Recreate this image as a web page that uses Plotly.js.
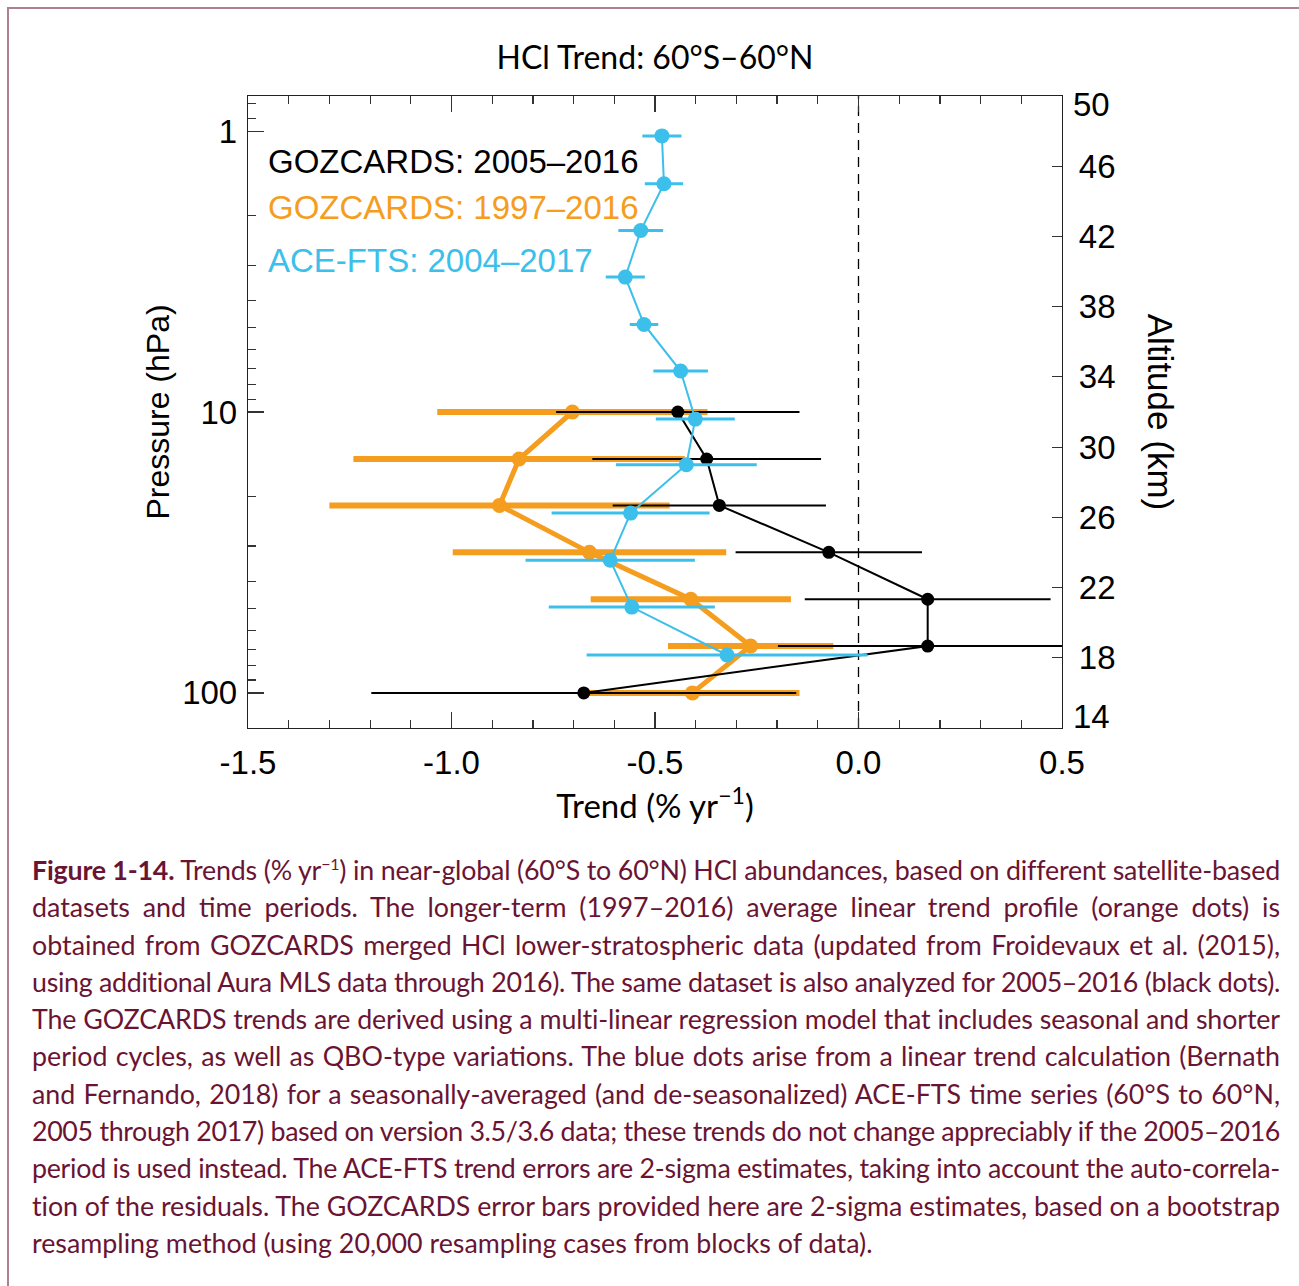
<!DOCTYPE html>
<html><head><meta charset="utf-8">
<script src="https://cdn.plot.ly/plotly-3.0.1.min.js"></script>
<style>
html,body{margin:0;padding:0;background:#fff;}
#wrap{position:relative;width:1299px;height:1286px;overflow:hidden;background:#fff;}
#chart{position:absolute;left:0;top:0;width:1299px;height:1286px;}
#frame{position:absolute;left:7px;top:7px;width:1292px;height:1279px;border-left:2px solid #b08090;border-top:2px solid #b08090;box-sizing:border-box;pointer-events:none;}
#caption{position:absolute;left:32px;top:852px;width:1248px;font-family:Lato,"Open Sans",sans-serif;font-size:26.8px;line-height:37.3px;color:#6a1434;}
#caption .l{white-space:nowrap;text-align:left;}
#caption .l.j{white-space:normal;text-align:justify;text-align-last:justify;}
#caption sup{font-size:16px;line-height:0;}
</style></head>
<body>
<div id="wrap">
<div id="chart"></div>
<div id="frame"></div>
<div id="caption">
<div class="l"><span class="t"><b>Figure 1-14.</b> Trends (% yr<sup>−1</sup>) in near-global (60°S to 60°N) HCl abundances, based on different satellite-based</span></div>
<div class="l"><span class="t">datasets and time periods. The longer-term (1997–2016) average linear trend profile (orange dots) is</span></div>
<div class="l"><span class="t">obtained from GOZCARDS merged HCl lower-stratospheric data (updated from Froidevaux et al. (2015),</span></div>
<div class="l"><span class="t">using additional Aura MLS data through 2016). The same dataset is also analyzed for 2005–2016 (black dots).</span></div>
<div class="l"><span class="t">The GOZCARDS trends are derived using a multi-linear regression model that includes seasonal and shorter</span></div>
<div class="l"><span class="t">period cycles, as well as QBO-type variations. The blue dots arise from a linear trend calculation (Bernath</span></div>
<div class="l"><span class="t">and Fernando, 2018) for a seasonally-averaged (and de-seasonalized) ACE-FTS time series (60°S to 60°N,</span></div>
<div class="l"><span class="t">2005 through 2017) based on version 3.5/3.6 data; these trends do not change appreciably if the 2005–2016</span></div>
<div class="l"><span class="t">period is used instead. The ACE-FTS trend errors are 2-sigma estimates, taking into account the auto-correla-</span></div>
<div class="l"><span class="t">tion of the residuals. The GOZCARDS error bars provided here are 2-sigma estimates, based on a bootstrap</span></div>
<div class="l last"><span class="t">resampling method (using 20,000 resampling cases from blocks of data).</span></div>
</div>
</div>
<script>
// ---- data ----
const gozPressure = [10, 14.7, 21.5, 31.6, 46.4, 68.1, 100];
const gozLongTrend = [-0.703, -0.834, -0.882, -0.661, -0.412, -0.265, -0.408];
const gozLongErr = [0.332, 0.407, 0.418, 0.336, 0.246, 0.203, 0.263];
const gozShortTrend = [-0.444, -0.373, -0.342, -0.073, 0.170, 0.170, -0.675];
const gozShortErr = [0.299, 0.281, 0.262, 0.229, 0.302, 0.368, 0.522];
const acePressure = [1.04, 1.54, 2.26, 3.31, 4.88, 7.15, 10.6, 15.4, 22.9, 33.7, 49.5, 73.3];
const aceTrend = [-0.483, -0.478, -0.535, -0.573, -0.527, -0.437, -0.401, -0.423, -0.560, -0.610, -0.557, -0.323];
const aceErr = [0.048, 0.047, 0.055, 0.048, 0.035, 0.067, 0.097, 0.173, 0.194, 0.208, 0.204, 0.345];
const xTickVals = [-1.5, -1.0, -0.5, 0.0, 0.5];
const xTickText = ["-1.5", "-1.0", "-0.5", "0.0", "0.5"];
const pTickVals = [1, 10, 100];
const pTickText = ["1", "10", "100"];
const pMinorVals = [0.8, 0.9, 2, 3, 4, 5, 6, 7, 8, 9, 20, 30, 40, 50, 60, 70, 80, 90];
const altTickVals = [18, 22, 26, 30, 34, 38, 42, 46];
const altEndLabels = ["14", "50"];
const seriesNames = ["GOZCARDS: 2005–2016", "GOZCARDS: 1997–2016", "ACE-FTS: 2004–2017"];
const seriesColors = ["#000000", "#f59d1e", "#3cbfea"];

const HELV = "Liberation Sans, Arial, sans-serif";
const MYR = "Lato, 'Open Sans', sans-serif";

const traces = [
  {x: gozLongTrend, y: gozPressure, type: 'scatter', mode: 'lines+markers', name: seriesNames[1],
   line: {color: seriesColors[1], width: 5}, marker: {color: seriesColors[1], size: 15},
   error_x: {type: 'data', array: gozLongErr, visible: true, thickness: 6, width: 0, color: seriesColors[1]},
   hoverinfo: 'skip'},
  {x: gozShortTrend, y: gozPressure, type: 'scatter', mode: 'lines+markers', name: seriesNames[0],
   line: {color: seriesColors[0], width: 2}, marker: {color: seriesColors[0], size: 13},
   error_x: {type: 'data', array: gozShortErr, visible: true, thickness: 2, width: 0, color: seriesColors[0]},
   hoverinfo: 'skip'},
  {x: aceTrend, y: acePressure, type: 'scatter', mode: 'lines+markers', name: seriesNames[2],
   line: {color: seriesColors[2], width: 2}, marker: {color: seriesColors[2], size: 15},
   error_x: {type: 'data', array: aceErr, visible: true, thickness: 3, width: 0, color: seriesColors[2]},
   hoverinfo: 'skip'},
  {x: [], y: [], yaxis: 'y2', type: 'scatter', mode: 'markers', showlegend: false, hoverinfo: 'skip'}
];

const axisCommon = {showgrid: false, zeroline: false, showline: true, linecolor: '#222', linewidth: 1.2,
  ticks: 'inside', tickcolor: '#333', tickwidth: 1.2, tickfont: {family: HELV, size: 33, color: '#000'}};

const endAnn = altEndLabels.map((t, i) => ({
  text: t, xref: 'paper', yref: 'y2', x: 1, y: Number(t), xanchor: 'left', yanchor: 'middle',
  xshift: 9, yshift: i === 0 ? 12 : -8, showarrow: false, font: {family: HELV, size: 33, color: '#000'}
}));

const layout = {
  width: 1299, height: 1286,
  margin: {l: 248, r: 237, t: 96, b: 558},
  paper_bgcolor: '#fff', plot_bgcolor: '#fff',
  showlegend: false,
  font: {family: HELV, color: '#000'},
  title: {text: 'HCl Trend: 60°S–60°N', font: {family: MYR, size: 32, color: '#000'},
          x: 0.5, xref: 'paper', xanchor: 'center', y: 1 - 58/1286, yref: 'container', yanchor: 'middle'},
  xaxis: Object.assign({}, axisCommon, {
    range: [-1.5, 0.5], tickmode: 'array', tickvals: xTickVals, ticktext: xTickText, ticklen: 16,
    mirror: 'ticks', ticklabelstandoff: 5,
    minor: {dtick: 0.1, tick0: 0, ticks: 'inside', ticklen: 8, tickcolor: '#333', tickwidth: 1.2, showgrid: false},
    title: {text: 'Trend (% yr<sup>−1</sup>)', font: {family: MYR, size: 33, color: '#000'}, standoff: 12}
  }),
  yaxis: Object.assign({}, axisCommon, {
    type: 'log', range: [Math.log10(100/0.75), Math.log10(0.75)],
    tickmode: 'array', tickvals: pTickVals, ticktext: pTickText, ticklen: 16, ticklabelstandoff: 3,
    minor: {tickmode: 'array', tickvals: pMinorVals, ticks: 'inside', ticklen: 8, tickcolor: '#333', tickwidth: 1.2, showgrid: false},
    title: {text: 'Pressure (hPa)', font: {family: HELV, size: 32, color: '#000'}, standoff: 3}
  }),
  yaxis2: Object.assign({}, axisCommon, {
    overlaying: 'y', side: 'right', anchor: 'x', range: [14, 50],
    tickmode: 'array', tickvals: altTickVals, ticklen: 10, ticklabelstandoff: 9,
    title: {text: 'Altitude (km)', font: {family: HELV, size: 35, color: '#000'}, standoff: 0}
  }),
  shapes: [
    {type: 'line', xref: 'x', yref: 'paper', x0: 0, x1: 0, y0: 0, y1: 1, layer: 'below',
     line: {color: '#000', width: 1.3, dash: '10px,7px'}}
  ],
  annotations: seriesNames.map((t, i) => ({
    text: t, xref: 'paper', yref: 'paper', x: 18/814, y: (728 - [161, 208, 260][i]) / 632,
    xanchor: 'left', yanchor: 'middle', showarrow: false,
    font: {family: HELV, size: 33, color: seriesColors[i]}
  })).concat(endAnn)
};

Plotly.newPlot('chart', traces, layout, {displayModeBar: false, staticPlot: true}).then(() => {
  // rotate Altitude title to read downward
  const t = document.querySelector('.g-y2title text');
  if (t) {
    const tr = t.getAttribute('transform') || '';
    t.setAttribute('transform', tr.replace(/rotate\((-?[\d.]+)/, (m, a) => 'rotate(90'));
  }
});

function fitCaption() {
  const W = 1248;
  document.querySelectorAll('#caption .l').forEach(el => {
    const span = el.querySelector('.t');
    el.style.letterSpacing = '0px';
    const w = span.getBoundingClientRect().width;
    const n = span.textContent.length;
    if (w > W - 2) el.style.letterSpacing = ((W - 2 - w) / n) + 'px';
    if (!el.classList.contains('last')) el.classList.add('j');
  });
}
if (document.fonts && document.fonts.ready) document.fonts.ready.then(fitCaption); else fitCaption();
</script>
</body></html>
